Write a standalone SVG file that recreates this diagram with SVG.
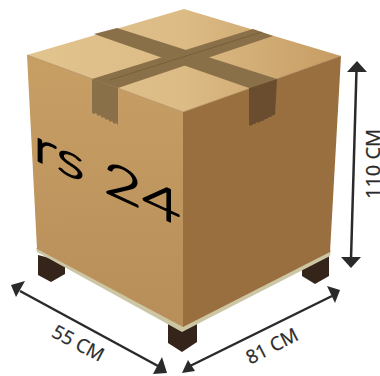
<svg xmlns="http://www.w3.org/2000/svg" width="380" height="376" viewBox="0 0 380 376">
<style>
.dim{stroke:#2a2a2a;stroke-width:2.5;fill:none}
.head{fill:#2a2a2a}
.lbl{font-family:"Open Sans","DejaVu Sans",sans-serif;font-size:19px;fill:#2a2a2a;stroke:#2a2a2a;stroke-width:0.25;text-anchor:middle}
.tape{fill:#8a7048}
.foot{fill:#35241a}
</style>
<defs>
<linearGradient id="top" gradientUnits="userSpaceOnUse" x1="27" y1="60" x2="341" y2="60"><stop offset="0" stop-color="#e2c48f"/><stop offset="0.5" stop-color="#dcbb85"/><stop offset="1" stop-color="#c69c64"/></linearGradient>
<linearGradient id="front" gradientUnits="userSpaceOnUse" x1="100" y1="60" x2="110" y2="320"><stop offset="0" stop-color="#c79f65"/><stop offset="1" stop-color="#b88e59"/></linearGradient>
</defs>
<g id="feet">
<polygon class="foot" points="38,255 38,275 51,282 65,274 65,262"/>
<polygon class="foot" points="168,322 168,343 182,352 197,342 197,322"/>
<polygon class="foot" points="302,265 302,276 315,284 329,276 329,250"/>
</g>
<g id="box">
<polygon fill="#cdc6a5" points="36,248 182,322 331,250 330,256 182,332 37,252"/>
<polygon fill="url(#front)" points="27,55 183,112 183,327 37,249"/>
<polygon fill="#9a6f40" points="183,112 341,56 330,252 183,327"/>
<polygon fill="url(#top)" points="27,55 184,9 341,56 183,112"/>
<path d="M27 55L183 112L341 56" fill="none" stroke="#a3804f" stroke-width="0.6"/>
</g>
<g id="tape">
<polygon class="tape" points="94,34 117,28 277,79 249,88"/>
<polygon class="tape" points="92,79 253,29 273,36 118,88"/>
<polygon class="tape" points="92,79 118,88 118,125 116,123 114,124 112,121 110,122 108,119 106,120 104,117 102,118 100,115 98,116 96,113 94,114 92,113"/>
<polygon fill="#6a4c2e" points="249,88 277,79 275,115 273,115 271,117 269,117 267,119 265,119 263,121 261,121 259,123 257,122 255,124 253,124 251,126 249,125"/>
<path d="M110 80L262 32" stroke="#705a38" stroke-width="0.8" fill="none"/>
</g>
<text id="print" transform="matrix(1.46 0.67 0 1 33 159)" font-family="Lato,'Open Sans',sans-serif" font-weight="300" font-size="46" fill="#000" stroke="#000" stroke-width="1.200" stroke-linejoin="round">rs 24</text>
<g id="connectors">
<path class="dim" d="M356.500 70L351 259"/>
<polygon class="head" points="357,61 347,72 367,72"/>
<polygon class="head" points="351,268 341,257 361,257"/>
<path class="dim" d="M20 291L158 366"/>
<polygon class="head" points="11,285 25,281 16,297"/>
<polygon class="head" points="167,373 162,357 153,374"/>
<path class="dim" d="M190 366L332 296"/>
<polygon class="head" points="182,373 188,360 195,371"/>
<polygon class="head" points="340,290 327,286 335,303"/>
</g>
<text class="lbl" transform="translate(75,349) rotate(28)">55 CM</text>
<text class="lbl" transform="translate(275,352) rotate(-27)">81 CM</text>
<text class="lbl" style="font-size:20px" transform="translate(380,164) rotate(-90)">110 CM</text>
</svg>
